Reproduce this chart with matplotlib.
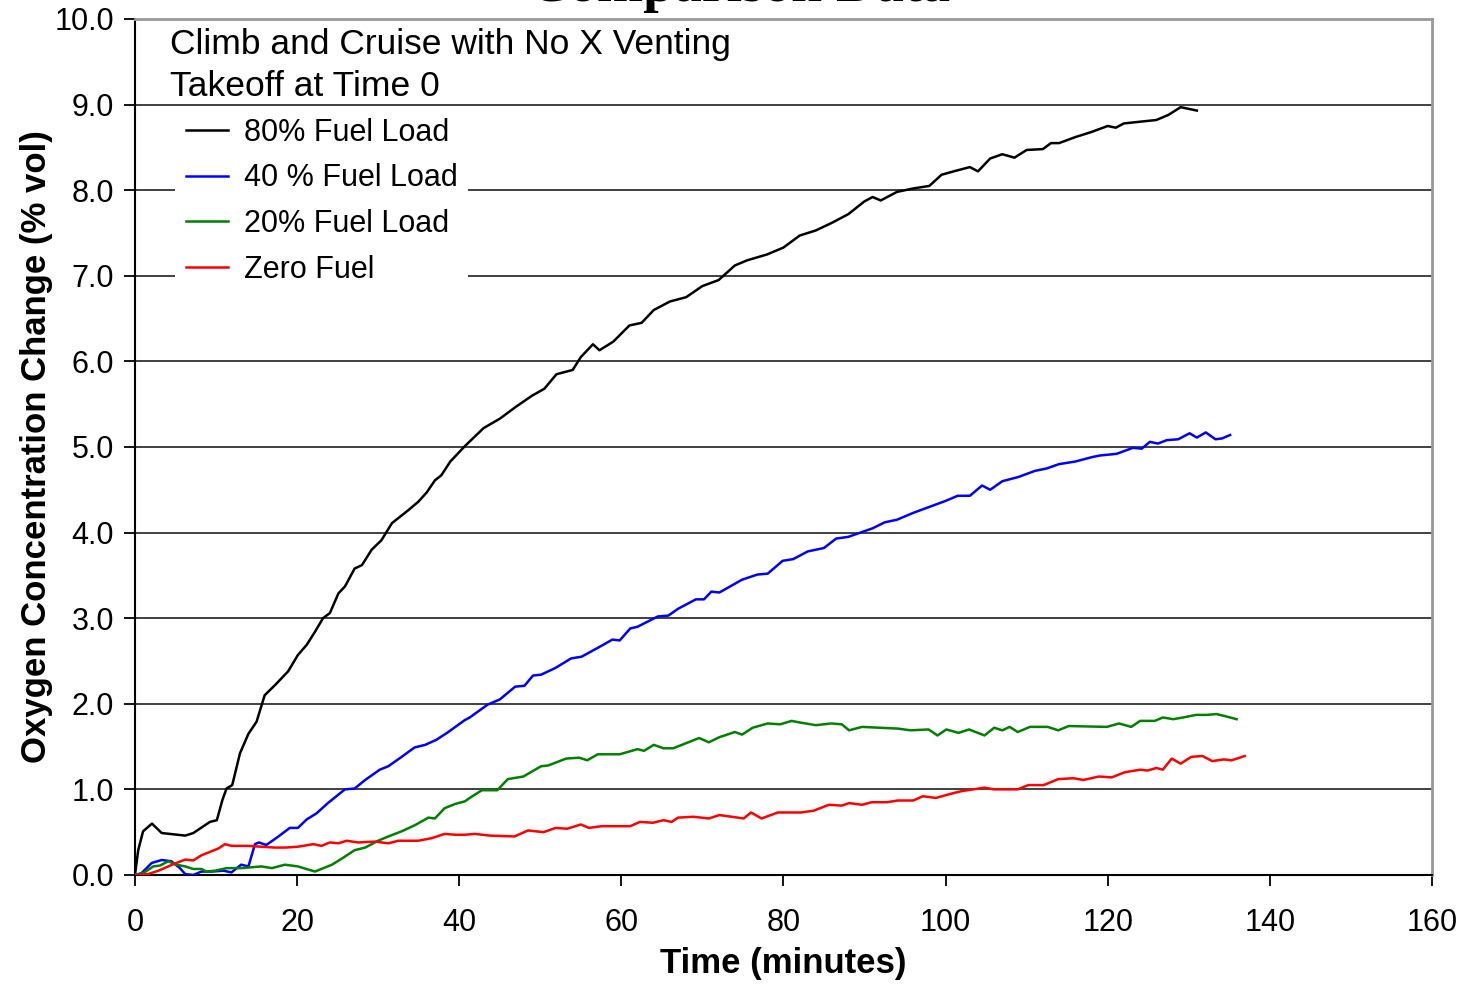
import numpy as np
import matplotlib
matplotlib.use("Agg")
import matplotlib.pyplot as plt
from matplotlib.ticker import FormatStrFormatter

plt.rcParams['font.family'] = ['Liberation Sans', 'DejaVu Sans']

# 80% fuel load (black)
t80 = [0, 0.4, 1.0, 2.1, 3.3, 6.2, 7.2, 9.25, 10.1, 10.8, 11.3, 12.0, 12.95, 14.0, 15.0,
       16.0, 17.3, 18.9, 20.1, 21.2, 22.2, 23.2, 24.05, 25.1, 25.9, 27.1, 28.0, 29.2,
       30.4, 31.7, 32.5, 33.7, 34.95, 36.0, 37.0, 37.8, 38.9, 39.9, 40.7, 43, 45, 47,
       49, 50.5, 52, 54, 55, 56.5, 57.3, 59, 61, 62.5, 64, 66, 68, 70, 72, 74, 75.5,
       78, 80, 82, 84, 86, 88, 90, 91, 92, 94, 96, 98, 99.5, 101, 103, 104, 105.5,
       107, 108.5, 110, 112, 113, 114, 116, 118, 120, 121, 122, 124, 126, 127.5, 129,
       130, 131]
o80 = [0, 0.29, 0.51, 0.60, 0.49, 0.46, 0.49, 0.62, 0.64, 0.88, 1.01, 1.05, 1.42, 1.65,
       1.79, 2.10, 2.22, 2.38, 2.57, 2.69, 2.84, 3.00, 3.06, 3.29, 3.37, 3.58, 3.62,
       3.80, 3.91, 4.11, 4.17, 4.26, 4.36, 4.47, 4.61, 4.67, 4.83, 4.93, 5.01, 5.22,
       5.33, 5.47, 5.60, 5.68, 5.85, 5.90, 6.05, 6.20, 6.13, 6.23, 6.42, 6.45, 6.60,
       6.70, 6.75, 6.88, 6.95, 7.12, 7.18, 7.25, 7.33, 7.47, 7.53, 7.62, 7.72, 7.87,
       7.92, 7.88, 7.98, 8.02, 8.05, 8.18, 8.22, 8.27, 8.22, 8.37, 8.42, 8.38, 8.47,
       8.48, 8.55, 8.55, 8.62, 8.68, 8.75, 8.73, 8.78, 8.80, 8.82, 8.88, 8.97, 8.95,
       8.93]

# 40 % fuel load (blue)
t40 = [0, 0.8, 2.06, 3.3, 4.5, 5.55, 6.2, 7.2, 8.2, 9.5, 10.9, 11.9, 13.1, 14.0, 14.8,
       15.3, 16.2, 17.7, 19.1, 20.1, 21.2, 22.4, 23.8, 25.9, 27.1, 28.4, 30.2, 31.25,
       32.9, 34.5, 35.8, 37.2, 38.65, 40.7, 41.3, 43.5, 45.0, 46.9, 48.05, 49.1, 50.1,
       51.9, 53.8, 55.1, 57.6, 58.9, 59.8, 61.1, 62.0, 64.5, 65.8, 67.0, 69.2, 70.2,
       71.1, 72.1, 74.9, 76.8, 78.05, 79.9, 81.2, 83, 85, 86.5, 88, 89.5, 91, 92.5, 94,
       96, 98, 100, 101.5, 103, 104.5, 105.5, 107, 109, 111, 112.5, 114, 116, 118,
       119.0, 121.1, 123.1, 124.2, 125.2, 126.2, 127.3, 128.7, 130.1, 131.0, 132.1,
       133.3, 134.1, 135.1]
o40 = [0, 0.02, 0.14, 0.175, 0.16, 0.08, 0.01, 0.0, 0.04, 0.04, 0.05, 0.03, 0.12, 0.10,
       0.36, 0.38, 0.35, 0.45, 0.55, 0.55, 0.65, 0.72, 0.84, 1.00, 1.01, 1.11, 1.23,
       1.27, 1.38, 1.49, 1.52, 1.58, 1.67, 1.81, 1.84, 1.99, 2.05, 2.20, 2.21, 2.33,
       2.34, 2.42, 2.53, 2.55, 2.68, 2.75, 2.74, 2.88, 2.90, 3.02, 3.03, 3.11, 3.22,
       3.22, 3.31, 3.30, 3.45, 3.51, 3.52, 3.67, 3.69, 3.78, 3.82, 3.93, 3.95, 4.00,
       4.05, 4.12, 4.15, 4.23, 4.30, 4.37, 4.43, 4.43, 4.55, 4.50, 4.60, 4.65, 4.72,
       4.75, 4.80, 4.83, 4.88, 4.90, 4.92, 4.99, 4.98, 5.06, 5.04, 5.08, 5.09, 5.16,
       5.11, 5.17, 5.09, 5.10, 5.14]

# 20% fuel load (green)
t20 = [0, 1.0, 2.26, 3.1, 4.1, 5.1, 6.2, 7.2, 8.2, 8.8, 9.9, 11.3, 13.2, 15.6, 16.9,
       18.5, 20.1, 22.2, 24.3, 25.5, 27.1, 28.4, 30.0, 31.25, 32.9, 34.5, 36.2, 37.0,
       38.2, 39.5, 40.7, 41.3, 42.8, 44.7, 46.0, 47.9, 50.1, 51.0, 53.2, 54.8, 55.8,
       57.1, 59.8, 62.0, 62.8, 64.0, 65.2, 66.4, 68.0, 69.6, 70.8, 72.1, 74.0, 74.9,
       76.2, 78.05, 79.6, 81.0, 82.1, 84.0, 85.9, 87.2, 88.1, 89.7, 94.1, 95.7, 97.9,
       99.0, 100.1, 101.6, 102.9, 104.8, 106.0, 107.0, 107.9, 108.9, 110.4, 112.6,
       113.9, 115.2, 119.9, 121.4, 122.9, 124.0, 125.8, 126.8, 128.1, 129.3, 130.9,
       132.2, 133.4, 134.3, 135.9]
o20 = [0, 0.02, 0.10, 0.11, 0.16, 0.12, 0.10, 0.07, 0.07, 0.04, 0.05, 0.08, 0.08, 0.10,
       0.08, 0.12, 0.10, 0.04, 0.12, 0.19, 0.29, 0.32, 0.40, 0.45, 0.51, 0.58, 0.67,
       0.66, 0.78, 0.83, 0.86, 0.90, 0.99, 0.99, 1.12, 1.15, 1.27, 1.28, 1.36, 1.37,
       1.34, 1.41, 1.41, 1.47, 1.45, 1.52, 1.48, 1.48, 1.54, 1.60, 1.55, 1.61, 1.67,
       1.64, 1.72, 1.77, 1.76, 1.80, 1.78, 1.75, 1.77, 1.76, 1.69, 1.73, 1.71, 1.69,
       1.70, 1.63, 1.70, 1.66, 1.70, 1.63, 1.72, 1.69, 1.73, 1.67, 1.73, 1.73, 1.69,
       1.74, 1.73, 1.77, 1.73, 1.80, 1.80, 1.84, 1.82, 1.84, 1.87, 1.87, 1.88, 1.86,
       1.82]

# zero fuel (red)
t0 = [0, 1.6, 2.9, 4.1, 5.1, 6.2, 7.2, 8.2, 9.25, 10.3, 11.1, 11.9, 14.0, 15.6, 17.3,
      18.5, 20.1, 22.0, 23.0, 24.05, 25.1, 26.1, 27.5, 29.6, 31.25, 32.5, 34.95, 36.6,
      38.2, 39.5, 40.7, 41.9, 43.8, 46.8, 48.5, 50.4, 51.9, 53.3, 55.0, 56.0, 57.6,
      59.5, 61.1, 62.3, 63.9, 65.2, 66.2, 67.0, 68.9, 70.8, 72.1, 73.6, 75.1, 76.0,
      77.3, 79.3, 82.1, 83.7, 85.6, 87.2, 88.1, 89.7, 90.9, 92.8, 94.1, 96.0, 97.2,
      98.8, 100.7, 102.0, 104.8, 106.0, 107.9, 108.9, 110.2, 112.1, 113.9, 115.8,
      117.0, 118.9, 120.5, 122.1, 124.0, 124.9, 126.0, 126.8, 127.9, 129.0, 130.3,
      131.7, 132.9, 134.3, 135.3, 136.9]
o0 = [0, 0.01, 0.05, 0.10, 0.14, 0.18, 0.17, 0.23, 0.27, 0.31, 0.36, 0.34, 0.34, 0.33,
      0.32, 0.32, 0.33, 0.36, 0.34, 0.38, 0.37, 0.40, 0.38, 0.39, 0.37, 0.40, 0.40,
      0.43, 0.48, 0.47, 0.47, 0.48, 0.46, 0.45, 0.52, 0.50, 0.55, 0.54, 0.59, 0.55,
      0.57, 0.57, 0.57, 0.62, 0.61, 0.64, 0.62, 0.67, 0.68, 0.66, 0.70, 0.68, 0.66,
      0.73, 0.66, 0.73, 0.73, 0.75, 0.82, 0.81, 0.84, 0.82, 0.85, 0.85, 0.87, 0.87,
      0.92, 0.90, 0.95, 0.98, 1.02, 1.00, 1.00, 1.00, 1.05, 1.05, 1.12, 1.13, 1.11,
      1.15, 1.14, 1.20, 1.23, 1.22, 1.25, 1.23, 1.36, 1.30, 1.38, 1.39, 1.33, 1.35,
      1.34, 1.39]

series = [("80% Fuel Load", t80, o80, "black"),
          ("40 % Fuel Load", t40, o40, "#0000ff"),
          ("20% Fuel Load", t20, o20, "#008000"),
          ("Zero Fuel", t0, o0, "#ff0000")]

fig = plt.figure(figsize=(14.67, 9.84), dpi=100)
ax = fig.add_axes([0.092, 0.1108, 0.8841, 0.8699])

for name, t, o, c in series:
    ax.plot(t, o, color=c, linewidth=1.8, label=name, zorder=3)

ax.set_xlim(0, 160)
ax.set_ylim(0, 10)
ax.set_xticks(range(0, 161, 20))
ax.set_yticks(np.arange(0, 10.01, 1.0))
ax.yaxis.set_major_formatter(FormatStrFormatter('%.1f'))
ax.tick_params(direction='out', length=8, width=1.3, labelsize=22)
ax.tick_params(axis='x', pad=16)
ax.tick_params(axis='y', pad=7)
ax.grid(axis='y', color='#404040', linewidth=1.4)
ax.set_axisbelow(True)
ax.spines['left'].set_linewidth(1.5)
ax.spines['bottom'].set_linewidth(1.5)
ax.spines['top'].set_color('#999999')
ax.spines['right'].set_color('#999999')
ax.spines['top'].set_linewidth(2)
ax.spines['right'].set_linewidth(2)

ax.set_xlabel("Time (minutes)", fontsize=25, fontweight='bold', labelpad=6)
ax.set_ylabel("Oxygen Concentration Change (% vol)", fontsize=25, fontweight='bold', labelpad=1)

ax.text(0.027, 0.99, "Climb and Cruise with No X Venting\nTakeoff at Time 0",
        transform=ax.transAxes, fontsize=25.5, va='top', ha='left', linespacing=1.36)

leg = ax.legend(loc='upper left', bbox_to_anchor=(0.0308, 0.897), fontsize=22,
                frameon=True, facecolor='white', edgecolor='none', framealpha=1,
                fancybox=False, handlelength=1.4, handletextpad=0.5,
                labelspacing=0.51, borderpad=0.35, borderaxespad=0)
leg.set_zorder(4)

fig.text(0.5044, 1 - 1 / 984, "Comparison Data", ha='center', va='baseline',
         fontsize=40, fontweight='bold', family='Liberation Serif')

fig.savefig("out.png", dpi=100)
